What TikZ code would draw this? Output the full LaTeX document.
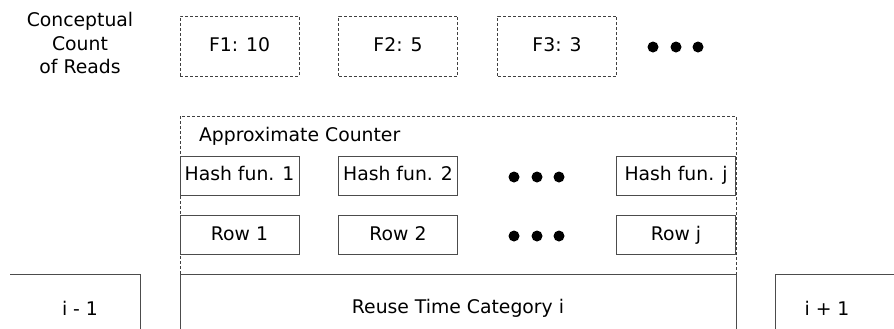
\documentclass[tikz,border=0pt]{standalone}
\usepackage{fontspec}
\setmainfont{DejaVu Sans}
\begin{document}
\begin{tikzpicture}[x=0.5pt, y=-0.5pt,
        font=\fontsize{9.4}{11.6}\selectfont,
        dashbox/.style={draw=black!75, line width=0.5pt, dash pattern=on 1.5pt off 1pt,
            inner sep=0pt, minimum width=59.5pt, minimum height=30pt,
            text height=7pt, text depth=2pt},
        cellbox/.style={draw=black!70, line width=0.5pt, inner sep=0pt,
            minimum width=59.5pt, minimum height=19.5pt,
            text height=7pt, text depth=2pt},
        dotmark/.style={circle, fill=black, inner sep=0pt, minimum size=5.5pt}]
        \useasboundingbox (0, 0) rectangle (894, 328);
        \clip (0, 0) rectangle (894, 328);

        % Draw the conceptual counts
        \node[align=center] (title) at (80, 43) {Conceptual\\Count\\of Reads};
        \node[dashbox] (f1) at (239.5, 46) {F1: 10};
        \node[dashbox] (f2) at (398, 46) {F2: 5};
        \node[dashbox] (f3) at (557, 46) {F3: 3};
        \node[dotmark] (fdot1) at (653, 47) {};
        \node[dotmark] (fdot2) at (676, 47) {};
        \node[dotmark] (fdot3) at (698, 47) {};

        % Draw the approximate counter
        \node[dashbox, minimum width=278pt, minimum height=79pt] (counter) at (458, 195) {};
        \node[anchor=west] (countername) at (192, 136) {Approximate Counter};

        \node[cellbox] (hash1) at (239.5, 175.5) {Hash fun. 1};
        \node[cellbox] (hash2) at (398, 175.5) {Hash fun. 2};
        \node[dotmark] (hdot1) at (514, 177) {};
        \node[dotmark] (hdot2) at (537, 177) {};
        \node[dotmark] (hdot3) at (559, 177) {};
        \node[cellbox] (hashj) at (676, 175.5) {Hash fun. j};

        \node[cellbox] (row1) at (239.5, 235) {Row 1};
        \node[cellbox] (row2) at (398, 235) {Row 2};
        \node[dotmark] (rdot1) at (514, 236) {};
        \node[dotmark] (rdot2) at (537, 236) {};
        \node[dotmark] (rdot3) at (559, 236) {};
        \node[cellbox] (rowj) at (676, 235) {Row j};

        % Draw the reuse time categories
        \node[cellbox, minimum width=278pt, minimum height=34pt] (reuse) at (458, 308) {Reuse Time Category i};
        \draw[black!70, line width=0.5pt] (10, 274) -- (140, 274) -- (140, 340);
        \node (prev) at (80, 308) {i - 1};
        \draw[black!70, line width=0.5pt] (900, 274) -- (775, 274) -- (775, 340);
        \node (next) at (827, 308) {i + 1};
    \end{tikzpicture}
\end{document}
